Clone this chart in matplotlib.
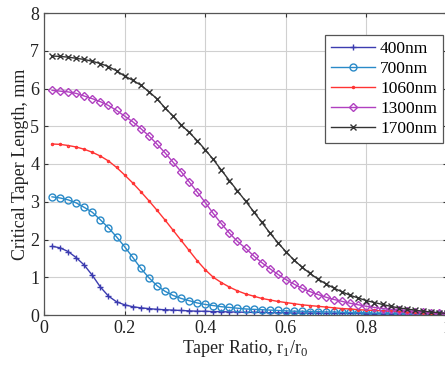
import numpy as np
import matplotlib
matplotlib.use("Agg")
import matplotlib.pyplot as plt

plt.rcParams['font.family'] = ['Liberation Serif', 'DejaVu Serif']
plt.rcParams['mathtext.fontset'] = 'custom'
plt.rcParams['mathtext.rm'] = 'Liberation Serif'

# taper ratio r1/r0, one point every 0.02
ratio = [round(0.02 * (i + 1), 2) for i in range(50)]

len_400 = [1.82, 1.78, 1.68, 1.52, 1.32, 1.05, 0.74, 0.50, 0.35, 0.27,
           0.22, 0.19, 0.17, 0.15, 0.14, 0.13, 0.12, 0.11, 0.10, 0.10,
           0.09, 0.09, 0.08, 0.08, 0.07, 0.07, 0.07, 0.06, 0.06, 0.06,
           0.05, 0.05, 0.05, 0.05, 0.04, 0.04, 0.04, 0.04, 0.04, 0.03,
           0.03, 0.03, 0.03, 0.03, 0.02, 0.02, 0.02, 0.02, 0.02, 0.02]
len_700 = [3.13, 3.10, 3.05, 2.97, 2.85, 2.72, 2.52, 2.31, 2.07, 1.81,
           1.53, 1.24, 0.99, 0.78, 0.63, 0.52, 0.44, 0.38, 0.32, 0.28,
           0.25, 0.22, 0.20, 0.18, 0.16, 0.15, 0.14, 0.13, 0.12, 0.11,
           0.10, 0.10, 0.09, 0.09, 0.08, 0.08, 0.07, 0.07, 0.06, 0.06,
           0.05, 0.05, 0.05, 0.04, 0.04, 0.04, 0.03, 0.03, 0.03, 0.02]
len_1060 = [4.53, 4.52, 4.49, 4.45, 4.39, 4.31, 4.21, 4.08, 3.91, 3.71,
            3.50, 3.27, 3.03, 2.78, 2.52, 2.25, 1.98, 1.71, 1.44, 1.20,
            1.00, 0.86, 0.74, 0.64, 0.56, 0.50, 0.44, 0.40, 0.36, 0.33,
            0.30, 0.27, 0.25, 0.23, 0.21, 0.19, 0.17, 0.16, 0.14, 0.13,
            0.12, 0.11, 0.10, 0.09, 0.08, 0.07, 0.06, 0.05, 0.04, 0.03]
len_1300 = [5.95, 5.93, 5.91, 5.87, 5.80, 5.73, 5.65, 5.55, 5.42, 5.27,
            5.12, 4.94, 4.75, 4.53, 4.30, 4.05, 3.80, 3.53, 3.26, 2.98,
            2.69, 2.42, 2.17, 1.95, 1.77, 1.57, 1.39, 1.23, 1.08, 0.94,
            0.82, 0.71, 0.62, 0.54, 0.47, 0.41, 0.36, 0.31, 0.27, 0.23,
            0.20, 0.17, 0.15, 0.13, 0.11, 0.09, 0.07, 0.06, 0.05, 0.04]
len_1700 = [6.86, 6.85, 6.83, 6.80, 6.77, 6.72, 6.66, 6.58, 6.47, 6.33,
            6.22, 6.09, 5.92, 5.73, 5.49, 5.27, 5.04, 4.84, 4.62, 4.38,
            4.12, 3.84, 3.56, 3.29, 3.02, 2.74, 2.46, 2.18, 1.92, 1.68,
            1.46, 1.27, 1.10, 0.95, 0.82, 0.71, 0.61, 0.52, 0.45, 0.38,
            0.33, 0.28, 0.23, 0.19, 0.16, 0.13, 0.10, 0.08, 0.06, 0.04]

series = [
    ('400nm', len_400, '#3c3cb0', '+'),
    ('700nm', len_700, '#2a8ac8', 'o'),
    ('1060nm', len_1060, '#ff3333', '.'),
    ('1300nm', len_1300, '#b040c0', 'D'),
    ('1700nm', len_1700, '#333333', 'x'),
]

fig = plt.figure(figsize=(4.45, 3.68), dpi=100)
ax = fig.add_axes([44 / 445, 1 - 315 / 368, 403 / 445, 302 / 368])

for lab, vals, col, mk in series:
    ms = 5
    if mk == '.':
        ms = 3
    elif mk == 'D':
        ms = 4.5
    elif mk == 'x':
        ms = 4
    ax.plot(ratio, vals, color=col, lw=1.0, marker=mk, ms=ms, mfc='none',
            mec=col, mew=1.0, label=lab)

ax.set_xlim(0, 1)
ax.set_ylim(0, 8)
ax.set_xticks([0, 0.2, 0.4, 0.6, 0.8, 1])
ax.set_xticklabels(['0', '0.2', '0.4', '0.6', '0.8', '1'])
ax.set_yticks(range(9))
ax.tick_params(direction='in', top=True, right=True, labelsize=13,
               length=3, colors='#333333', labelcolor='#222222')
ax.grid(True, color='#d0d0d0', lw=0.8)
for sp in ax.spines.values():
    sp.set_color('#555555')
    sp.set_linewidth(0.9)

ax.set_xlabel(r'Taper Ratio, r$_\mathregular{1}$/r$_\mathregular{0}$', fontsize=13, color='#222222', labelpad=1)
ax.set_ylabel('Critical Taper Length, mm', fontsize=13, color='#222222', labelpad=1)

leg = ax.legend(loc='upper right', bbox_to_anchor=(0.99, 0.927), fontsize=12.5,
                handlelength=2.5, handletextpad=0.3, borderpad=0.35,
                labelspacing=0.22, fancybox=False, framealpha=1,
                edgecolor='#555555', borderaxespad=0)
leg.get_frame().set_linewidth(0.9)

fig.savefig('out.png', dpi=100)
